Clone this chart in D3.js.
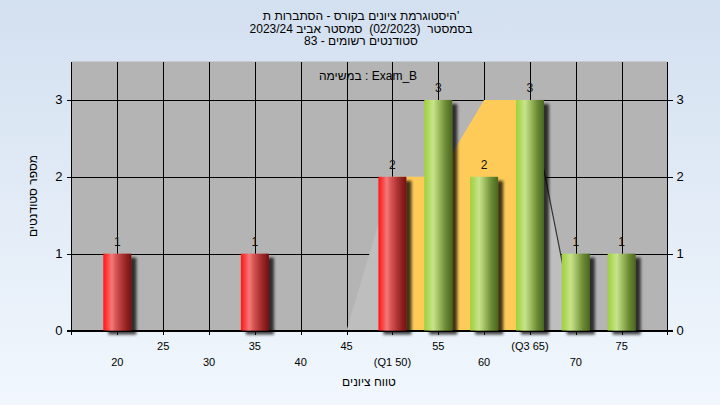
<!DOCTYPE html>
<html><head><meta charset="utf-8">
<script src="https://cdn.jsdelivr.net/npm/d3@7"></script>
<style>html,body{margin:0;padding:0;}svg{display:block;} text{white-space:pre;}</style>
</head><body>
<svg id="chart" width="720" height="405"></svg>
<script>
// ---- data ----
const categories = [20,25,30,35,40,45,50,55,60,65,70,75];
const counts     = [1, 0, 0, 1, 0, 0, 2, 3, 2, 3, 1, 1];
const tickLabels = ["20","25","30","35","40","45","(Q1 50)","55","60","(Q3 65)","70","75"];
const q1 = 50, q3 = 65;
const curveX = [45,50,55,60,65,70];
const curveY = [0, 2, 2, 3, 3, 0];
const yTicks = [0,1,2,3];
// words in reading order (right to left)
const titleLines = [
  ["'","היסטוגרמת","ציונים","בקורס","-","הסתברות","ת"],
  ["בסמסטר"," (02/2023) ","סמסטר","אביב","2023/24"],
  ["סטודנטים","רשומים","-","83"]
];
const subTitle = "במשימה : Exam_B";
const xTitle = ["טווח","ציונים"];
const yTitle = "מספר סטודנטים";

const svg = d3.select("#chart");
const W = 720, H = 405;
const font = "'Liberation Sans', Arial, 'DejaVu Sans', sans-serif";
const m = {l:71.5, r:667.5, t:61.5, b:330.5};

const defs = svg.append("defs");
const bg = defs.append("linearGradient").attr("id","bg").attr("x1",0).attr("y1",0).attr("x2",0).attr("y2",1);
bg.append("stop").attr("offset","0%").attr("stop-color","#d3e0f0");
bg.append("stop").attr("offset","100%").attr("stop-color","#f1f7fd");

function cyl(id, stops){
  const g = defs.append("linearGradient").attr("id",id).attr("x1",0).attr("y1",0).attr("x2",1).attr("y2",0);
  stops.forEach(s=>g.append("stop").attr("offset",s[0]).attr("stop-color",s[1]));
}
cyl("gRed", [["0%","#ff1414"],["12%","#ff3a3a"],["30%","#f27a7a"],["45%","#d85454"],["70%","#a83030"],["100%","#731010"]]);
cyl("gGreen", [["0%","#a0cf3e"],["12%","#acd856"],["32%","#c8e48c"],["50%","#a4c166"],["75%","#6d8c35"],["100%","#4a661f"]]);

const f = defs.append("filter").attr("id","shadow").attr("x","-20%").attr("y","-20%").attr("width","160%").attr("height","140%");
f.append("feGaussianBlur").attr("in","SourceAlpha").attr("stdDeviation",1.8).attr("result","b");
f.append("feOffset").attr("in","b").attr("dx",5).attr("dy",4).attr("result","o");
f.append("feComponentTransfer").attr("in","o").attr("result","o2")
  .append("feFuncA").attr("type","linear").attr("slope",0.75);
const fm = f.append("feMerge");
fm.append("feMergeNode").attr("in","o2");
fm.append("feMergeNode").attr("in","SourceGraphic");

svg.append("rect").attr("width",W).attr("height",H).attr("fill","url(#bg)");

const x = d3.scaleLinear().domain([15,80]).range([m.l, m.r]);
const y = d3.scaleLinear().domain([0,3.5]).range([m.b, m.t]);

svg.append("rect").attr("x",m.l).attr("y",m.t).attr("width",m.r-m.l).attr("height",m.b-m.t).attr("fill","#b4b4b4");

// gridlines (with outer ticks)
const grid = svg.append("g").attr("stroke","#000").attr("stroke-width",1).attr("shape-rendering","crispEdges");
categories.forEach(c=>{
  grid.append("line").attr("x1",Math.round(x(c))+0.5).attr("x2",Math.round(x(c))+0.5).attr("y1",m.t).attr("y2",m.b+4);
});
yTicks.forEach(t=>{
  grid.append("line").attr("x1",m.l-5).attr("x2",m.r+5).attr("y1",Math.round(y(t))+0.5).attr("y2",Math.round(y(t))+0.5);
});

// distribution area (light gray)
const pts = curveX.map((v,i)=>[v,curveY[i]]);
const area = d3.area().x(d=>x(d[0])).y0(y(0)).y1(d=>y(d[1]));
svg.append("path").datum(pts).attr("d",area).attr("fill","#bebebe");
// IQR area (orange)
const iqr = pts.filter(d=>d[0]>=q1 && d[0]<=q3);
svg.append("path").datum(iqr).attr("d",area).attr("fill","#fecb58");
// descending edge line
const tail = pts.filter(d=>d[0]>=q3);
svg.append("path").datum(tail).attr("d",d3.line().x(d=>x(d[0])).y(d=>y(d[1])))
  .attr("fill","none").attr("stroke","#333").attr("stroke-width",1.2);

// axes lines
const ax = svg.append("g").attr("stroke","#000").attr("shape-rendering","crispEdges");
ax.append("line").attr("x1",m.l).attr("x2",m.l).attr("y1",m.t).attr("y2",m.b+4);
ax.append("line").attr("x1",m.r).attr("x2",m.r).attr("y1",m.t).attr("y2",m.b+4);
ax.append("line").attr("x1",m.l-5).attr("x2",m.r+5).attr("y1",m.b).attr("y2",m.b);

// bars
const bw = 28;
const bars = svg.append("g");
categories.forEach((c,i)=>{
  if(!counts[i]) return;
  bars.append("rect").attr("x",x(c)-bw/2).attr("y",y(counts[i])).attr("width",bw).attr("height",y(0)-y(counts[i]))
    .attr("fill", c<=q1 ? "url(#gRed)" : "url(#gGreen)").attr("filter","url(#shadow)");
});
categories.forEach((c,i)=>{
  if(!counts[i]) return;
  svg.append("text").attr("x",x(c)).attr("y",y(counts[i])-8).attr("text-anchor","middle")
    .attr("font-family",font).attr("font-size",12).attr("fill","#111").text(counts[i]);
});

// y tick labels
yTicks.forEach(t=>{
  svg.append("text").attr("x",m.l-9).attr("y",y(t)+4.5).attr("text-anchor","end")
    .attr("font-family",font).attr("font-size",13).attr("fill","#000").text(t);
  svg.append("text").attr("x",m.r+9).attr("y",y(t)+4.5).attr("text-anchor","start")
    .attr("font-family",font).attr("font-size",13).attr("fill","#000").text(t);
});

// x tick labels (staggered)
categories.forEach((c,i)=>{
  svg.append("text").attr("x",x(c)).attr("y", i%2===1 ? 350 : 366).attr("text-anchor","middle")
    .attr("font-family",font).attr("font-size",11).attr("fill","#000").text(tickLabels[i]);
});

// lay out words right-to-left (reading order), each word placed explicitly
function wordLine(wordsRTL, cx, yy, size){
  const words = wordsRTL.slice().reverse(); // left-to-right visual order
  const g = svg.append("g");
  const spaceT = g.append("text").attr("font-family",font).attr("font-size",size).text("a a");
  const aT = g.append("text").attr("font-family",font).attr("font-size",size).text("aa");
  const sp = spaceT.node().getComputedTextLength() - aT.node().getComputedTextLength();
  spaceT.remove(); aT.remove();
  const nodes = words.map(w => g.append("text").attr("xml:space","preserve").attr("font-family",font)
    .attr("font-size",size).attr("fill","#000").attr("y",yy).attr("text-anchor","start").attr("direction","ltr").text(w));
  const widths = nodes.map(n => n.node().getComputedTextLength());
  const gaps = words.map((w,i)=> (i===0 || w==="'" || words[i-1]==="'") ? 0 : sp);
  const total = d3.sum(widths) + d3.sum(gaps);
  let cur = cx - total/2;
  nodes.forEach((n,i)=>{ cur += gaps[i]; n.attr("x",cur); cur += widths[i]; });
}
titleLines.forEach((ln,i)=> wordLine(ln, 361, 20+i*12.5, 12));
svg.append("text").attr("x",368).attr("y",80).attr("text-anchor","middle")
  .attr("font-family",font).attr("font-size",12).attr("fill","#000").text(subTitle);
wordLine(xTitle, 369, 386, 12);
svg.append("text").attr("transform","translate(37,196) rotate(-90)").attr("text-anchor","middle")
  .attr("font-family",font).attr("font-size",12).attr("fill","#000").text(yTitle);
</script>
</body></html>
